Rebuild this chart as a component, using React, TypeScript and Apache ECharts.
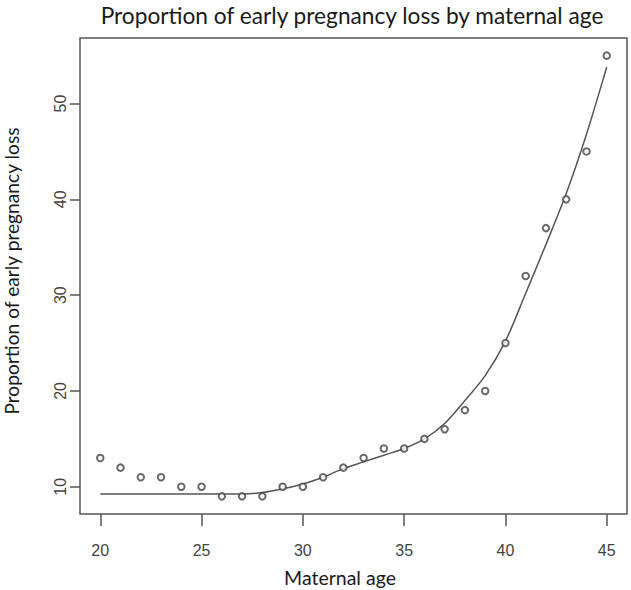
import React, { useEffect, useRef } from "react";
import * as echarts from "echarts";

const ages = [20, 21, 22, 23, 24, 25, 26, 27, 28, 29, 30, 31, 32, 33, 34, 35, 36, 37, 38, 39, 40, 41, 42, 43, 44, 45];
const observed = [13, 12, 11, 11, 10, 10, 9, 9, 9, 10, 10, 11, 12, 13, 14, 14, 15, 16, 18, 20, 25, 32, 37, 40, 45, 55];
const fitted = [9.24, 9.24, 9.24, 9.24, 9.24, 9.24, 9.24, 9.25, 9.4, 9.8, 10.3, 11.0, 11.9, 12.6, 13.3, 14.0, 15.0, 16.6, 19.0, 21.6, 25.2, 30.2, 35.3, 40.6, 46.8, 53.8];
const xTicks = [20, 25, 30, 35, 40, 45];
const yTicks = [10, 20, 30, 40, 50];

const titleText = "Proportion of early pregnancy loss by maternal age";
const xName = "Maternal age";
const yName = "Proportion of early pregnancy loss";

export default function App() {
  const ref = useRef<HTMLDivElement>(null);
  useEffect(() => {
    if (!ref.current) return;
    const chart = echarts.init(ref.current, null, { renderer: "svg" });
    const labelFont = "Lato, 'Open Sans', sans-serif";
    chart.setOption({
      animation: false,
      backgroundColor: "#ffffff",
      grid: {
        left: 80,
        right: 4,
        top: 38,
        bottom: 76,
        show: true,
        borderColor: "#555555",
        borderWidth: 1.5,
        backgroundColor: "transparent",
      },
      xAxis: {
        type: "value",
        min: 19,
        max: 46,
        axisLine: { show: false },
        splitLine: { show: false },
        axisTick: {
          show: true,
          length: 12,
          lineStyle: { color: "#555555", width: 1.5 },
          customValues: xTicks,
        },
        axisLabel: {
          customValues: xTicks,
          fontSize: 16,
          color: "#444444",
          fontFamily: "'Liberation Sans', Arial, sans-serif",
          margin: 28,
        },
      },
      yAxis: {
        type: "value",
        min: 7.16,
        max: 56.84,
        axisLine: { show: false },
        splitLine: { show: false },
        axisTick: {
          show: true,
          length: 10,
          lineStyle: { color: "#555555", width: 1.5 },
          customValues: yTicks,
        },
        axisLabel: {
          customValues: yTicks,
          rotate: 90,
          fontSize: 16,
          color: "#444444",
          fontFamily: "'Liberation Sans', Arial, sans-serif",
          margin: 12,
        },
      },
      series: [
        {
          type: "line",
          data: ages.map((a, i) => [a, fitted[i]]),
          showSymbol: false,
          symbol: "none",
          smooth: 0.3,
          lineStyle: { color: "#555555", width: 1.5 },
          z: 2,
        },
        {
          type: "scatter",
          data: ages.map((a, i) => [a, observed[i]]),
          symbol: "emptyCircle",
          symbolSize: 6.5,
          itemStyle: { color: "#444444", borderColor: "#444444", borderWidth: 1.1 },
          z: 3,
        },
      ],
      graphic: [
        {
          type: "text",
          x: 352,
          y: 15,
          style: {
            text: titleText,
            fontSize: 22.7,
            fontFamily: labelFont,
            fill: "#1a1a1a",
            textAlign: "center",
            textVerticalAlign: "middle",
          },
        },
        {
          type: "text",
          x: 340,
          y: 577,
          style: {
            text: xName,
            fontSize: 19.5,
            fontFamily: labelFont,
            fill: "#1a1a1a",
            textAlign: "center",
            textVerticalAlign: "middle",
          },
        },
        {
          type: "text",
          x: 11,
          y: 271,
          rotation: Math.PI / 2,
          style: {
            text: yName,
            fontSize: 19.2,
            fontFamily: labelFont,
            fill: "#1a1a1a",
            textAlign: "center",
            textVerticalAlign: "middle",
          },
        },
      ],
    });
    return () => chart.dispose();
  }, []);
  return (
    <div
      ref={ref}
      style={{ position: "fixed", left: 0, top: 0, width: 631, height: 590 }}
    />
  );
}
